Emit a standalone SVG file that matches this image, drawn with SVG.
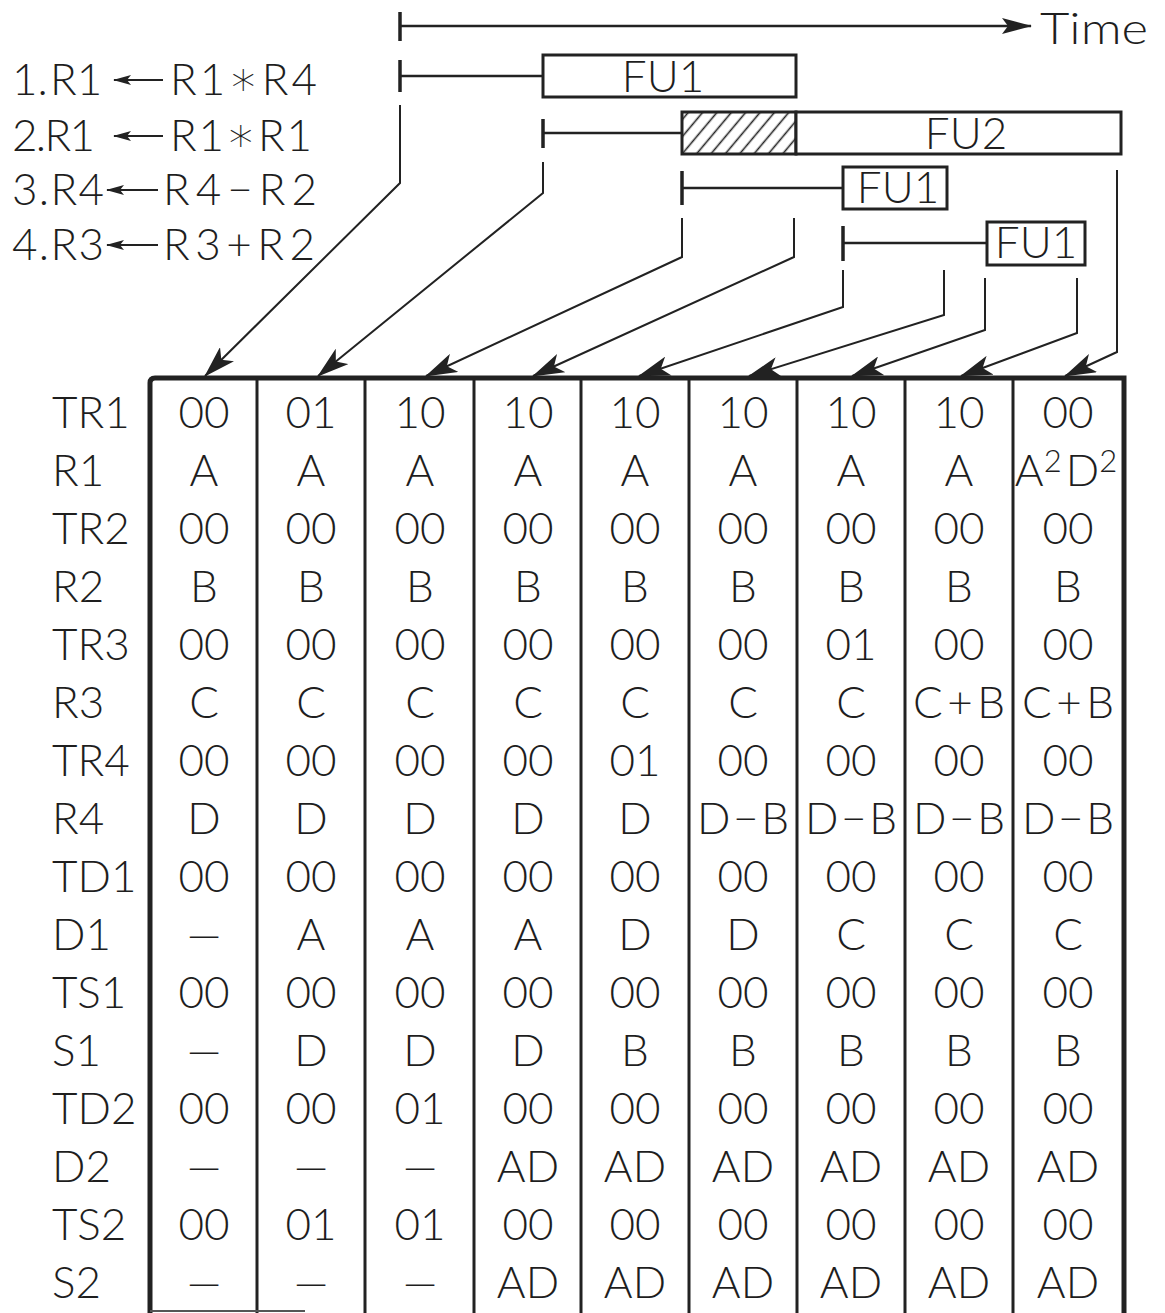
<svg xmlns="http://www.w3.org/2000/svg" width="1165" height="1313" viewBox="0 0 1165 1313">
<style>
.t{font-family:Lato,"Open Sans","DejaVu Sans",sans-serif;font-weight:300;font-size:44px;fill:#1e1e1e}
.c{text-anchor:middle}
.star{font-family:"DejaVu Sans",sans-serif;font-size:48px}
.ln{stroke:#222;stroke-width:2;fill:none}
.ax{stroke:#222;stroke-width:2.5;fill:none}
.tick{stroke:#222;stroke-width:3.5}
.box{fill:#fff;stroke:#222;stroke-width:3}
.grid{stroke:#222;stroke-width:3;fill:none}
.outer{stroke:#222;stroke-width:5;fill:none}
</style>
<defs>
<marker id="ah" viewBox="0 0 32 20" refX="31" refY="10" markerWidth="32" markerHeight="20" markerUnits="userSpaceOnUse" orient="auto"><path d="M32,10 L0,0 L8,10 L0,20 Z" fill="#222"/></marker>
<marker id="ahT" viewBox="0 0 30 16" refX="29" refY="8" markerWidth="30" markerHeight="16" markerUnits="userSpaceOnUse" orient="auto"><path d="M30,8 L0,0 L6,8 L0,16 Z" fill="#222"/></marker>
<marker id="ahS" viewBox="0 0 18 10" refX="17" refY="5" markerWidth="18" markerHeight="10" markerUnits="userSpaceOnUse" orient="auto"><path d="M18,5 L0,0 L4,5 L0,10 Z" fill="#222"/></marker>
<pattern id="hatch" patternUnits="userSpaceOnUse" width="11" height="11" patternTransform="rotate(40)"><line x1="5.5" y1="0" x2="5.5" y2="11" stroke="#222" stroke-width="1.6"/></pattern>
</defs>

<!-- time axis -->
<g id="time-axis">
<line class="tick" x1="400" y1="12" x2="400" y2="41"/>
<line class="ax" x1="400" y1="26" x2="1031" y2="26" marker-end="url(#ahT)"/>
<text class="t" x="1040" y="44" textLength="108" lengthAdjust="spacingAndGlyphs">Time</text>
</g>

<!-- instructions -->
<g id="instr-1">
<text class="t" x="12" y="95">1.<tspan x="50">R1</tspan></text>
<line class="ln" x1="163" y1="80" x2="114" y2="80" stroke-width="1.8" marker-end="url(#ahS)"/>
<text class="t" x="170" y="95" textLength="147" lengthAdjust="spacing">R1<tspan class="star">∗</tspan>R4</text>
</g>
<g id="instr-2">
<text class="t" x="12" y="151" textLength="83" lengthAdjust="spacing">2.R1</text>
<line class="ln" x1="163" y1="136" x2="114" y2="136" stroke-width="1.8" marker-end="url(#ahS)"/>
<text class="t" x="170" y="151" textLength="142" lengthAdjust="spacing">R1<tspan class="star">∗</tspan>R1</text>
</g>
<g id="instr-3">
<text class="t" x="12" y="205" textLength="92" lengthAdjust="spacing">3.R4</text>
<line class="ln" x1="158" y1="190" x2="107" y2="190" stroke-width="1.8" marker-end="url(#ahS)"/>
<text class="t" x="163" y="205" textLength="154" lengthAdjust="spacing">R4−R2</text>
</g>
<g id="instr-4">
<text class="t" x="12" y="260" textLength="92" lengthAdjust="spacing">4.R3</text>
<line class="ln" x1="158" y1="245" x2="107" y2="245" stroke-width="1.8" marker-end="url(#ahS)"/>
<text class="t" x="163" y="260" textLength="152" lengthAdjust="spacing">R3+R2</text>
</g>

<!-- functional unit bars -->
<g id="bar-1">
<line class="tick" x1="400" y1="60" x2="400" y2="92"/>
<line class="ax" x1="400" y1="76" x2="543" y2="76"/>
<rect class="box" x="543" y="55" width="253" height="42"/>
<text class="t c" x="663" y="92">FU1</text>
</g>
<g id="bar-2">
<line class="tick" x1="543" y1="119" x2="543" y2="148"/>
<line class="ax" x1="543" y1="133" x2="682" y2="133"/>
<rect x="682" y="112" width="114" height="42" fill="url(#hatch)" stroke="#222" stroke-width="3"/>
<rect class="box" x="796" y="112" width="325" height="42"/>
<text class="t c" x="966" y="149">FU2</text>
</g>
<g id="bar-3">
<line class="tick" x1="682" y1="171" x2="682" y2="205"/>
<line class="ax" x1="682" y1="188" x2="843" y2="188"/>
<rect class="box" x="843" y="167" width="104" height="42"/>
<text class="t c" x="898" y="203">FU1</text>
</g>
<g id="bar-4">
<line class="tick" x1="843" y1="226" x2="843" y2="261"/>
<line class="ax" x1="843" y1="243" x2="987" y2="243"/>
<rect class="box" x="987" y="222" width="98" height="43"/>
<text class="t c" x="1036" y="258">FU1</text>
</g>

<!-- connectors -->
<g id="connectors">
<polyline class="ln" points="400,105 400,183 205,376" marker-end="url(#ah)"/>
<polyline class="ln" points="543,162 543,193 318,376" marker-end="url(#ah)"/>
<polyline class="ln" points="682,218 682,257 426,376" marker-end="url(#ah)"/>
<polyline class="ln" points="794,218 794,257 533,376" marker-end="url(#ah)"/>
<polyline class="ln" points="843,270 843,307 639,376" marker-end="url(#ah)"/>
<polyline class="ln" points="944,270 944,315 749,376" marker-end="url(#ah)"/>
<polyline class="ln" points="985,278 985,330 852,376" marker-end="url(#ah)"/>
<polyline class="ln" points="1077,278 1077,333 961,376" marker-end="url(#ah)"/>
<polyline class="ln" points="1117,170 1117,352 1065,376" marker-end="url(#ah)"/>
</g>

<!-- table grid -->
<g id="table-grid">
<line class="grid" x1="257" y1="378" x2="257" y2="1313"/>
<line class="grid" x1="365" y1="378" x2="365" y2="1313"/>
<line class="grid" x1="474" y1="378" x2="474" y2="1313"/>
<line class="grid" x1="581" y1="378" x2="581" y2="1313"/>
<line class="grid" x1="689" y1="378" x2="689" y2="1313"/>
<line class="grid" x1="797" y1="378" x2="797" y2="1313"/>
<line class="grid" x1="905" y1="378" x2="905" y2="1313"/>
<line class="grid" x1="1013" y1="378" x2="1013" y2="1313"/>
<path class="outer" d="M150,1313 L150,383 Q150,378 155,378 L1124,378 L1124,1313"/>
<line x1="150" y1="1311" x2="305" y2="1311" stroke="#555" stroke-width="2"/>
</g>

<!-- row labels -->
<g id="row-labels" class="t">
<text x="52" y="428">TR1</text>
<text x="52" y="486">R1</text>
<text x="52" y="544">TR2</text>
<text x="52" y="602">R2</text>
<text x="52" y="660">TR3</text>
<text x="52" y="718">R3</text>
<text x="52" y="776">TR4</text>
<text x="52" y="834">R4</text>
<text x="52" y="892">TD1</text>
<text x="52" y="950">D1</text>
<text x="52" y="1008">TS1</text>
<text x="52" y="1066">S1</text>
<text x="52" y="1124">TD2</text>
<text x="52" y="1182">D2</text>
<text x="52" y="1240">TS2</text>
<text x="52" y="1298">S2</text>
</g>

<g id="col-1" class="t c">
<text x="204" y="428">00</text><text x="204" y="486">A</text><text x="204" y="544">00</text><text x="204" y="602">B</text>
<text x="204" y="660">00</text><text x="204" y="718">C</text><text x="204" y="776">00</text><text x="204" y="834">D</text>
<text x="204" y="892">00</text><text x="204" y="950">—</text><text x="204" y="1008">00</text><text x="204" y="1066">—</text>
<text x="204" y="1124">00</text><text x="204" y="1182">—</text><text x="204" y="1240">00</text><text x="204" y="1298">—</text>
</g>
<g id="col-2" class="t c">
<text x="311" y="428">01</text><text x="311" y="486">A</text><text x="311" y="544">00</text><text x="311" y="602">B</text>
<text x="311" y="660">00</text><text x="311" y="718">C</text><text x="311" y="776">00</text><text x="311" y="834">D</text>
<text x="311" y="892">00</text><text x="311" y="950">A</text><text x="311" y="1008">00</text><text x="311" y="1066">D</text>
<text x="311" y="1124">00</text><text x="311" y="1182">—</text><text x="311" y="1240">01</text><text x="311" y="1298">—</text>
</g>
<g id="col-3" class="t c">
<text x="420" y="428">10</text><text x="420" y="486">A</text><text x="420" y="544">00</text><text x="420" y="602">B</text>
<text x="420" y="660">00</text><text x="420" y="718">C</text><text x="420" y="776">00</text><text x="420" y="834">D</text>
<text x="420" y="892">00</text><text x="420" y="950">A</text><text x="420" y="1008">00</text><text x="420" y="1066">D</text>
<text x="420" y="1124">01</text><text x="420" y="1182">—</text><text x="420" y="1240">01</text><text x="420" y="1298">—</text>
</g>
<g id="col-4" class="t c">
<text x="528" y="428">10</text><text x="528" y="486">A</text><text x="528" y="544">00</text><text x="528" y="602">B</text>
<text x="528" y="660">00</text><text x="528" y="718">C</text><text x="528" y="776">00</text><text x="528" y="834">D</text>
<text x="528" y="892">00</text><text x="528" y="950">A</text><text x="528" y="1008">00</text><text x="528" y="1066">D</text>
<text x="528" y="1124">00</text><text x="528" y="1182">AD</text><text x="528" y="1240">00</text><text x="528" y="1298">AD</text>
</g>
<g id="col-5" class="t c">
<text x="635" y="428">10</text><text x="635" y="486">A</text><text x="635" y="544">00</text><text x="635" y="602">B</text>
<text x="635" y="660">00</text><text x="635" y="718">C</text><text x="635" y="776">01</text><text x="635" y="834">D</text>
<text x="635" y="892">00</text><text x="635" y="950">D</text><text x="635" y="1008">00</text><text x="635" y="1066">B</text>
<text x="635" y="1124">00</text><text x="635" y="1182">AD</text><text x="635" y="1240">00</text><text x="635" y="1298">AD</text>
</g>
<g id="col-6" class="t c">
<text x="743" y="428">10</text><text x="743" y="486">A</text><text x="743" y="544">00</text><text x="743" y="602">B</text>
<text x="743" y="660">00</text><text x="743" y="718">C</text><text x="743" y="776">00</text><text x="743" y="834" textLength="92" lengthAdjust="spacing">D−B</text>
<text x="743" y="892">00</text><text x="743" y="950">D</text><text x="743" y="1008">00</text><text x="743" y="1066">B</text>
<text x="743" y="1124">00</text><text x="743" y="1182">AD</text><text x="743" y="1240">00</text><text x="743" y="1298">AD</text>
</g>
<g id="col-7" class="t c">
<text x="851" y="428">10</text><text x="851" y="486">A</text><text x="851" y="544">00</text><text x="851" y="602">B</text>
<text x="851" y="660">01</text><text x="851" y="718">C</text><text x="851" y="776">00</text><text x="851" y="834" textLength="92" lengthAdjust="spacing">D−B</text>
<text x="851" y="892">00</text><text x="851" y="950">C</text><text x="851" y="1008">00</text><text x="851" y="1066">B</text>
<text x="851" y="1124">00</text><text x="851" y="1182">AD</text><text x="851" y="1240">00</text><text x="851" y="1298">AD</text>
</g>
<g id="col-8" class="t c">
<text x="959" y="428">10</text><text x="959" y="486">A</text><text x="959" y="544">00</text><text x="959" y="602">B</text>
<text x="959" y="660">00</text><text x="959" y="718" textLength="92" lengthAdjust="spacing">C+B</text><text x="959" y="776">00</text><text x="959" y="834" textLength="92" lengthAdjust="spacing">D−B</text>
<text x="959" y="892">00</text><text x="959" y="950">C</text><text x="959" y="1008">00</text><text x="959" y="1066">B</text>
<text x="959" y="1124">00</text><text x="959" y="1182">AD</text><text x="959" y="1240">00</text><text x="959" y="1298">AD</text>
</g>
<g id="col-9" class="t c">
<text x="1068" y="428">00</text>
<text x="1066" y="486">A<tspan font-size="31" dy="-14">2</tspan><tspan dy="14" dx="4">D</tspan><tspan font-size="31" dy="-14">2</tspan></text>
<text x="1068" y="544">00</text><text x="1068" y="602">B</text>
<text x="1068" y="660">00</text><text x="1068" y="718" textLength="92" lengthAdjust="spacing">C+B</text><text x="1068" y="776">00</text><text x="1068" y="834" textLength="92" lengthAdjust="spacing">D−B</text>
<text x="1068" y="892">00</text><text x="1068" y="950">C</text><text x="1068" y="1008">00</text><text x="1068" y="1066">B</text>
<text x="1068" y="1124">00</text><text x="1068" y="1182">AD</text><text x="1068" y="1240">00</text><text x="1068" y="1298">AD</text>
</g>
</svg>
